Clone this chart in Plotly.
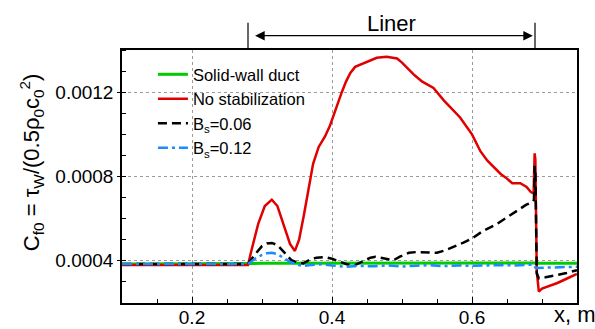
import plotly.graph_objects as go

# ---------------- data ----------------
green_x = [0.10, 0.28, 0.30, 0.69, 0.6905, 0.75]
green_y = [0.000385, 0.000385, 0.000388, 0.00039, 0.000388, 0.000388]

red_x = [0.10, 0.28, 0.285, 0.2947, 0.304, 0.314, 0.322, 0.332, 0.340, 0.347, 0.353, 0.360,
         0.366, 0.373, 0.381, 0.390, 0.397, 0.405, 0.414, 0.420, 0.426, 0.433, 0.440, 0.452,
         0.464, 0.478, 0.493, 0.500, 0.507, 0.518, 0.529, 0.545, 0.560, 0.572, 0.583, 0.600,
         0.612, 0.622, 0.632, 0.641, 0.650, 0.6575, 0.669, 0.678, 0.684, 0.688, 0.6895, 0.6905,
         0.6925, 0.6955, 0.700, 0.710, 0.722, 0.735, 0.75]
red_y = [0.00038, 0.00038, 0.00045, 0.000577, 0.00066, 0.00069, 0.00066, 0.00056, 0.00048, 0.000447, 0.00050, 0.00062,
         0.00073, 0.00086, 0.00094, 0.00099, 0.00104, 0.00112, 0.0012, 0.00125, 0.00129, 0.00132, 0.00133, 0.001345,
         0.001363, 0.001368, 0.00136, 0.00134, 0.001316, 0.00128, 0.00125, 0.00122, 0.00116, 0.00112, 0.00108, 0.001,
         0.00092, 0.000875, 0.00084, 0.000812, 0.00079, 0.000768, 0.000768, 0.00075, 0.000726, 0.00072, 0.00091, 0.00088,
         0.00035, 0.000254, 0.000268, 0.00028, 0.000295, 0.000315, 0.000338]

black_x = [0.10, 0.28, 0.29, 0.30, 0.307, 0.314, 0.322, 0.332, 0.342, 0.350, 0.359, 0.368, 0.378,
           0.390, 0.400, 0.412, 0.422, 0.433, 0.445, 0.455, 0.462, 0.470, 0.480, 0.488, 0.497,
           0.510, 0.5215, 0.535, 0.55, 0.562, 0.574, 0.587, 0.600, 0.615, 0.636, 0.650, 0.665,
           0.677, 0.686, 0.6885, 0.6895, 0.6905, 0.6925, 0.6955, 0.705, 0.722, 0.735, 0.75]
black_y = [0.000385, 0.000385, 0.00043, 0.00047, 0.000482, 0.000485, 0.000475, 0.00044, 0.000403, 0.000392, 0.000388, 0.000405, 0.000415,
           0.000418, 0.00041, 0.000395, 0.000383, 0.00038, 0.0004, 0.000415, 0.000419, 0.000414, 0.000405, 0.000403, 0.00042,
           0.000438, 0.000442, 0.00044, 0.000438, 0.00045, 0.000466, 0.000485, 0.000506, 0.00054, 0.000576, 0.000605, 0.000639,
           0.000665, 0.000678, 0.00069, 0.00085, 0.00083, 0.00034, 0.000317, 0.000322, 0.000333, 0.000342, 0.000356]

blue_x = [0.10, 0.28, 0.29, 0.30, 0.307, 0.314, 0.322, 0.332, 0.340, 0.350, 0.359, 0.370, 0.385,
          0.40, 0.42, 0.44, 0.46, 0.48, 0.50, 0.52, 0.54, 0.56, 0.58, 0.60, 0.62, 0.64, 0.66,
          0.68, 0.688, 0.6905, 0.693, 0.71, 0.73, 0.75]
blue_y = [0.000385, 0.000385, 0.00041, 0.000428, 0.000436, 0.000438, 0.000432, 0.00041, 0.000395, 0.000383, 0.000375, 0.00038, 0.000384,
          0.000378, 0.000372, 0.000376, 0.000374, 0.000378, 0.000373, 0.000377, 0.000379, 0.000375, 0.000378, 0.000376, 0.000379, 0.00038, 0.000378,
          0.00038, 0.000382, 0.000368, 0.000366, 0.000368, 0.00037, 0.000372]

series_names = ["Solid-wall duct", "No stabilization", "B<sub>s</sub>=0.06", "B<sub>s</sub>=0.12"]
x_ticks = [0.2, 0.4, 0.6]
x_tick_labels = ["0.2", "0.4", "0.6"]
y_ticks = [0.0004, 0.0008, 0.0012]
y_tick_labels = ["0.0004", "0.0008", "0.0012"]
liner_start = 0.28
liner_end = 0.69
liner_label = "Liner"

FONT = "Liberation Sans, Arial, sans-serif"

fig = go.Figure()
fig.add_trace(go.Scatter(x=green_x, y=green_y, mode="lines", name=series_names[0],
                         line=dict(color="#00cc00", width=3)))
fig.add_trace(go.Scatter(x=red_x, y=red_y, mode="lines", name=series_names[1],
                         line=dict(color="#e00000", width=2.5)))
fig.add_trace(go.Scatter(x=black_x, y=black_y, mode="lines", name=series_names[2],
                         line=dict(color="black", width=2.5, dash="9px,5px")))
fig.add_trace(go.Scatter(x=blue_x, y=blue_y, mode="lines", name=series_names[3],
                         line=dict(color="#1a8cff", width=2.5, dash="10px,4px,3px,4px")))

# Liner bracket
for xv in (liner_start, liner_end):
    fig.add_shape(type="line", xref="x", yref="paper", x0=xv, x1=xv, y0=1.0, y1=1.108,
                  line=dict(color="black", width=1.2))
fig.add_annotation(x=liner_end - 0.003, y=1.0565, xref="x", yref="paper",
                   ax=liner_start + 0.008, ay=0, axref="x", ayref="pixel",
                   text="", showarrow=True, arrowhead=2, arrowside="end+start",
                   arrowsize=1.6, arrowwidth=1.2, arrowcolor="black")
fig.add_annotation(x=(liner_start + liner_end) / 2, y=1.103, xref="x", yref="paper",
                   text=liner_label, showarrow=False, font=dict(size=22, family=FONT, color="black"),
                   xanchor="center", yanchor="middle")

# axis titles as annotations
fig.add_annotation(x=-0.199, y=0.5585, xref="paper", yref="paper",
                   text="C<sub>f0</sub> = τ<sub>W</sub>/(0.5ρ<sub>0</sub>c<sub>0</sub><sup>2</sup>)",
                   textangle=-90, showarrow=False, xanchor="center", yanchor="middle",
                   font=dict(size=22, family=FONT, color="black"))
fig.add_annotation(x=0.945, y=-0.045, xref="paper", yref="paper", text="x, m",
                   showarrow=False, xanchor="left", yanchor="middle",
                   font=dict(size=22, family=FONT, color="black"))

fig.update_layout(
    width=595, height=329,
    margin=dict(l=122, r=18, t=50, b=26),
    paper_bgcolor="white", plot_bgcolor="white",
    font=dict(family=FONT, size=19, color="black"),
    showlegend=True,
    legend=dict(x=0.068, y=0.972, xanchor="left", yanchor="top",
                bgcolor="rgba(0,0,0,0)", font=dict(size=16.5, family=FONT),
                tracegroupgap=0, itemwidth=30),
    xaxis=dict(range=[0.1, 0.75], tickvals=x_ticks, ticktext=x_tick_labels,
               ticks="inside", ticklen=6, tickwidth=1, tickcolor="black",
               ticklabelstandoff=-4,
               showline=True, linecolor="black", linewidth=1.5, mirror=True,
               showgrid=True, gridcolor="#9a9a9a", griddash="dot", gridwidth=1,
               zeroline=False, automargin=False,
               minor=dict(dtick=0.05, tick0=0.1, ticks="inside", ticklen=4, tickcolor="black", showgrid=False)),
    yaxis=dict(range=[0.0002, 0.0014], tickvals=y_ticks, ticktext=y_tick_labels,
               ticks="outside", ticklen=3, tickwidth=1, tickcolor="black",
               showline=True, linecolor="black", linewidth=1.5, mirror=True,
               showgrid=True, gridcolor="#9a9a9a", griddash="dot", gridwidth=1,
               zeroline=False, automargin=False,
               minor=dict(dtick=0.0001, tick0=0.0002, ticks="inside", ticklen=4, tickcolor="black", showgrid=False)),
)

fig.write_html("out.html")
